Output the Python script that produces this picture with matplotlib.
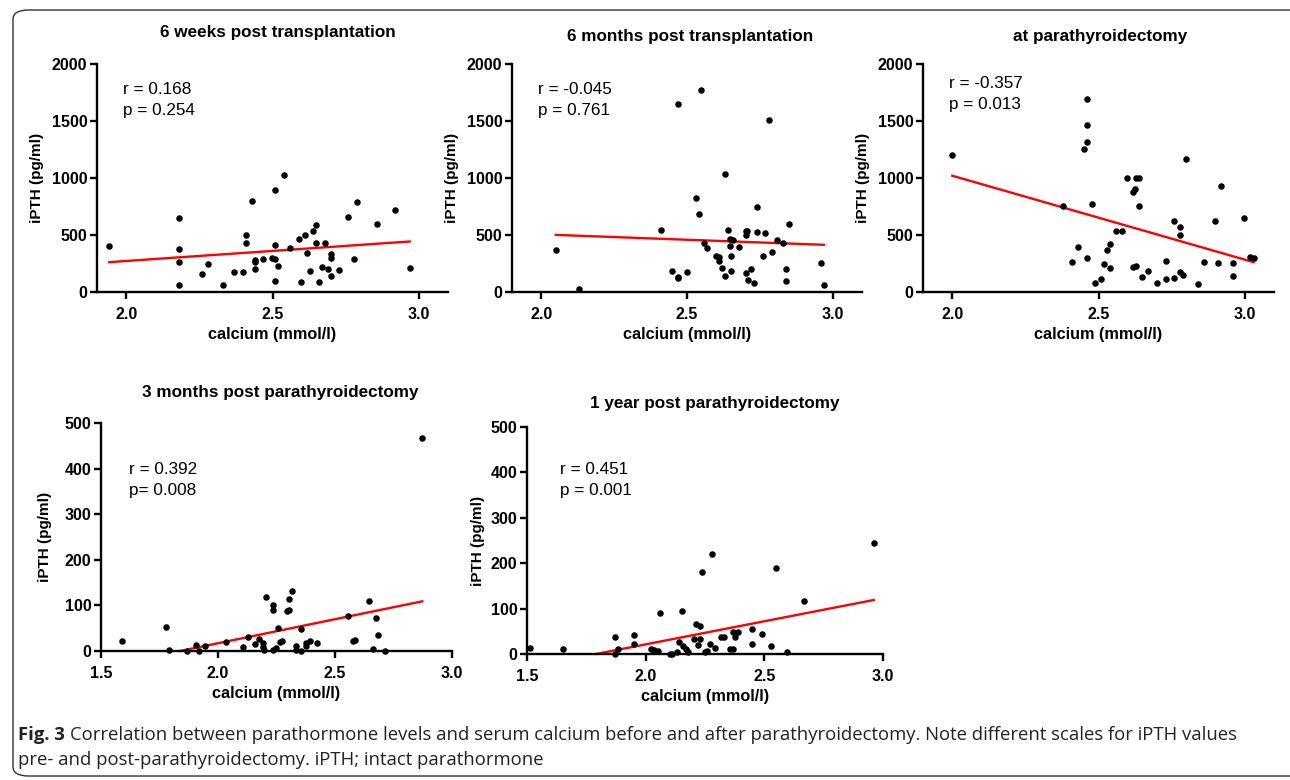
import matplotlib
matplotlib.use("Agg")
import matplotlib.pyplot as plt
from matplotlib.patches import FancyBboxPatch

W, H = 1290, 780
plt.rcParams['font.family'] = ['Liberation Sans', 'DejaVu Sans']

# ---------------- data ----------------
titles = ["6 weeks post transplantation", "6 months post transplantation",
          "at parathyroidectomy", "3 months post parathyroidectomy",
          "1 year post parathyroidectomy"]
stats_text = [("r = 0.168", "p = 0.254"), ("r = -0.045", "p = 0.761"),
              ("r = -0.357", "p = 0.013"), ("r = 0.392", "p= 0.008"),
              ("r = 0.451", "p = 0.001")]
xlabel = "calcium (mmol/l)"
ylabel = "iPTH (pg/ml)"

p1_ca = [1.942, 2.180, 2.180, 2.180, 2.180, 2.260, 2.280, 2.330, 2.370, 2.400,
         2.409, 2.409, 2.430, 2.441, 2.441, 2.441, 2.469, 2.499, 2.509, 2.509,
         2.509, 2.509, 2.519, 2.539, 2.559, 2.589, 2.599, 2.610, 2.619, 2.629,
         2.640, 2.650, 2.650, 2.660, 2.669, 2.679, 2.689, 2.700, 2.700, 2.700,
         2.728, 2.758, 2.779, 2.789, 2.858, 2.918, 2.969]
p1_pth = [402, 650, 379, 262, 58, 160, 248, 64, 178, 172,
          504, 431, 799, 277, 265, 201, 289, 297, 289, 408,
          898, 96, 230, 1026, 382, 466, 85, 501, 341, 181,
          539, 586, 431, 90, 222, 428, 204, 332, 297, 140,
          195, 659, 289, 787, 598, 720, 210]
p1_fit_ca = [1.942, 2.969]
p1_fit_pth = [262, 443]

p2_ca = [2.050, 2.130, 2.410, 2.450, 2.470, 2.470, 2.470, 2.500, 2.530, 2.540,
         2.549, 2.559, 2.568, 2.599, 2.608, 2.608, 2.619, 2.629, 2.629, 2.639,
         2.648, 2.659, 2.648, 2.650, 2.650, 2.679, 2.701, 2.701, 2.707, 2.701,
         2.710, 2.721, 2.729, 2.740, 2.740, 2.760, 2.769, 2.780, 2.790, 2.809,
         2.830, 2.839, 2.839, 2.849, 2.960, 2.969]
p2_pth = [370, 29, 545, 184, 1650, 134, 122, 175, 822, 688,
          1775, 428, 388, 318, 271, 309, 213, 1038, 140, 542,
          463, 452, 402, 312, 187, 394, 533, 501, 539, 166,
          105, 204, 82, 746, 525, 315, 519, 1510, 350, 452,
          426, 204, 96, 598, 257, 61]
p2_fit_ca = [2.050, 2.969]
p2_fit_pth = [501, 414]

p3_ca = [2.000, 2.379, 2.409, 2.430, 2.449, 2.459, 2.459, 2.459, 2.459, 2.479,
         2.489, 2.510, 2.519, 2.529, 2.539, 2.539, 2.559, 2.579, 2.599, 2.618,
         2.624, 2.629, 2.639, 2.639, 2.618, 2.629, 2.648, 2.669, 2.701, 2.730,
         2.730, 2.759, 2.759, 2.779, 2.779, 2.779, 2.790, 2.799, 2.839, 2.859,
         2.898, 2.910, 2.919, 2.959, 2.959, 2.999, 3.019, 3.030]
p3_pth = [1201, 752, 259, 396, 1251, 1315, 1466, 1697, 300, 770,
          82, 111, 248, 367, 423, 210, 531, 531, 1000, 877,
          904, 1000, 1000, 752, 216, 227, 128, 184, 79, 274,
          117, 627, 125, 566, 501, 175, 149, 1166, 73, 265,
          627, 257, 930, 257, 140, 653, 309, 297]
p3_fit_ca = [2.000, 3.030]
p3_fit_pth = [1020, 262]

p4_ca = [1.589, 1.779, 1.789, 1.868, 1.907, 1.917, 1.946, 2.036, 2.107, 2.128,
         2.156, 2.176, 2.193, 2.193, 2.196, 2.206, 2.236, 2.236, 2.236, 2.246,
         2.256, 2.264, 2.275, 2.295, 2.305, 2.305, 2.315, 2.335, 2.335, 2.354,
         2.356, 2.374, 2.377, 2.395, 2.425, 2.555, 2.575, 2.585, 2.644, 2.664,
         2.674, 2.684, 2.714, 2.873]
p4_pth = [23, 52, 3, 1, 13, 1, 10, 20, 9, 30,
          15, 26, 18, 9, 3, 119, 100, 91, 3, 7,
          51, 19, 23, 87, 91, 115, 131, 11, 3, 1,
          49, 11, 18, 23, 18, 76, 22, 25, 109, 4,
          72, 34, 0, 467]
p4_fit_ca = [1.838, 2.873]
p4_fit_pth = [0, 109]

p5_ca = [1.514, 1.653, 1.870, 1.871, 1.883, 1.952, 1.952, 2.023, 2.036, 2.050,
         2.061, 2.102, 2.111, 2.133, 2.141, 2.152, 2.156, 2.169, 2.180, 2.204,
         2.211, 2.219, 2.229, 2.231, 2.239, 2.248, 2.260, 2.271, 2.280, 2.291,
         2.318, 2.330, 2.356, 2.367, 2.368, 2.378, 2.389, 2.449, 2.449, 2.489,
         2.529, 2.548, 2.597, 2.667, 2.964]
p5_pth = [14, 12, 38, 1, 10, 41, 23, 10, 8, 7,
          90, 0, 0, 5, 27, 95, 18, 11, 5, 34,
          65, 19, 34, 62, 180, 4, 7, 23, 221, 14,
          37, 38, 10, 11, 48, 38, 48, 56, 23, 44,
          17, 190, 4, 117, 244]
p5_fit_ca = [1.791, 2.961]
p5_fit_pth = [0, 119]

x_ticks_top = [2.0, 2.5, 3.0]
y_ticks_top = [0, 500, 1000, 1500, 2000]
x_ticks_bot = [1.5, 2.0, 2.5, 3.0]
y_ticks_bot = [0, 100, 200, 300, 400, 500]

# ---------------- layout ----------------
fig = plt.figure(figsize=(W / 100, H / 100), dpi=100)


def fx(x):
    return x / W


def fy(y):
    return 1 - y / H


# rounded frame around the figure
frame = FancyBboxPatch((fx(13), fy(776)), fx(1310) - fx(13), fy(10) - fy(776),
                       boxstyle="round,pad=0,rounding_size=0.012",
                       transform=fig.transFigure, fill=False,
                       edgecolor="#333333", linewidth=1.0, clip_on=False)
fig.patches.append(frame)

panels = [
    dict(ca=p1_ca, pth=p1_pth, fca=p1_fit_ca, fpth=p1_fit_pth,
         box=(97, 64, 448, 292), xlim=(1.9, 3.1), ylim=(0, 2000),
         xt=x_ticks_top, yt=y_ticks_top, title_xy=(278, 33),
         st_xy=(123, 90), ylab_x=37),
    dict(ca=p2_ca, pth=p2_pth, fca=p2_fit_ca, fpth=p2_fit_pth,
         box=(512, 64, 862, 292), xlim=(1.9, 3.1), ylim=(0, 2000),
         xt=x_ticks_top, yt=y_ticks_top, title_xy=(690, 37),
         st_xy=(538, 90), ylab_x=452),
    dict(ca=p3_ca, pth=p3_pth, fca=p3_fit_ca, fpth=p3_fit_pth,
         box=(923, 64, 1274, 292), xlim=(1.9, 3.1), ylim=(0, 2000),
         xt=x_ticks_top, yt=y_ticks_top, title_xy=(1100, 37),
         st_xy=(949, 84), ylab_x=863),
    dict(ca=p4_ca, pth=p4_pth, fca=p4_fit_ca, fpth=p4_fit_pth,
         box=(101, 423, 452, 651), xlim=(1.5, 3.0), ylim=(0, 500),
         xt=x_ticks_bot, yt=y_ticks_bot, title_xy=(280, 393),
         st_xy=(129, 470), ylab_x=45),
    dict(ca=p5_ca, pth=p5_pth, fca=p5_fit_ca, fpth=p5_fit_pth,
         box=(527, 427, 883, 654), xlim=(1.5, 3.0), ylim=(0, 500),
         xt=x_ticks_bot, yt=y_ticks_bot, title_xy=(715, 403),
         st_xy=(560, 470), ylab_x=478),
]

for i, p in enumerate(panels):
    l, t, r, b = p["box"]
    ax = fig.add_axes([fx(l), fy(b), fx(r) - fx(l), fy(t) - fy(b)])
    ax.scatter(p["ca"], p["pth"], s=22, color="black", zorder=3, linewidths=0,
               clip_on=False)
    ax.plot(p["fca"], p["fpth"], color="#ff0000", lw=1.7, zorder=2,
            clip_on=False)
    ax.set_xlim(*p["xlim"])
    ax.set_ylim(*p["ylim"])
    ax.set_xticks(p["xt"])
    ax.set_yticks(p["yt"])
    ax.set_xticklabels([f"{v:.1f}" for v in p["xt"]])
    ax.set_yticklabels([f"{v:d}" for v in p["yt"]])
    for s in ("top", "right"):
        ax.spines[s].set_visible(False)
    for s in ("left", "bottom"):
        ax.spines[s].set_linewidth(1.7)
    ax.tick_params(axis="both", direction="out", length=5, width=1.7,
                   labelsize=11.5)
    ax.tick_params(axis="y", pad=2)
    ax.tick_params(axis="x", pad=5.5)
    for lab in ax.get_xticklabels() + ax.get_yticklabels():
        lab.set_fontweight("bold")
    ax.set_xlabel(xlabel, fontsize=11.7, fontweight="bold", labelpad=4)
    ax.patch.set_alpha(0)

    fig.text(fx(p["ylab_x"]), fy((t + b) / 2), ylabel, rotation=90,
             ha="center", va="center", fontsize=11, fontweight="bold")
    fig.text(fx(p["title_xy"][0]), fy(p["title_xy"][1]), titles[i],
             ha="center", va="center", fontsize=12.3, fontweight="bold")
    sx, sy = p["st_xy"]
    fig.text(fx(sx), fy(sy), stats_text[i][0], ha="left", va="center",
             fontsize=12.3)
    fig.text(fx(sx), fy(sy + 21), stats_text[i][1], ha="left", va="center",
             fontsize=12.3)

# caption
cap_font = ['Open Sans', 'DejaVu Sans']
t_bold = fig.text(fx(18), fy(735), "Fig. 3", ha="left", va="center",
                  fontsize=13.3, fontweight="bold", family=cap_font,
                  color="#222222")
fig.canvas.draw()
bb = t_bold.get_window_extent()
x_after = bb.x1 / W + 5 / W
fig.text(x_after, fy(735),
         "Correlation between parathormone levels and serum calcium before and "
         "after parathyroidectomy. Note different scales for iPTH values",
         ha="left", va="center", fontsize=13.3, family=cap_font,
         color="#222222")
fig.text(fx(18), fy(760), "pre- and post-parathyroidectomy. iPTH; intact parathormone",
         ha="left", va="center", fontsize=13.3, family=cap_font,
         color="#222222")

fig.savefig("out.png", dpi=100)
